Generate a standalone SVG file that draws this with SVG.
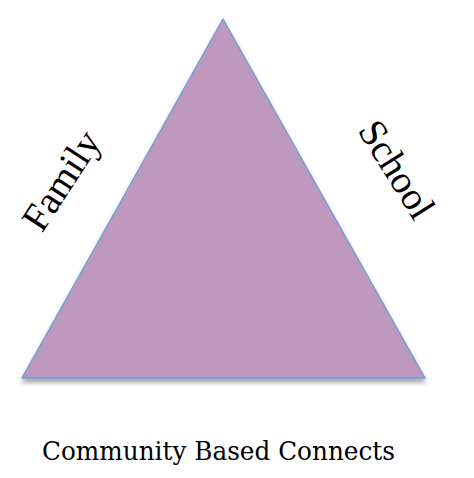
<svg xmlns="http://www.w3.org/2000/svg" width="474" height="478" viewBox="0 0 474 478">
<style>
.lbl{font-family:"Liberation Serif","Times New Roman",serif;fill:#000;}
.cap{font-family:"DejaVu Serif","Liberation Serif",serif;fill:#000;}
</style>
<defs>
<filter id="sh" x="-10%" y="-10%" width="120%" height="130%">
<feGaussianBlur in="SourceAlpha" stdDeviation="2.5"/>
<feOffset dx="0" dy="4" result="b"/>
<feComponentTransfer><feFuncA type="linear" slope="0.35"/></feComponentTransfer>
<feMerge><feMergeNode/><feMergeNode in="SourceGraphic"/></feMerge>
</filter>
</defs>
<rect width="474" height="478" fill="#fff"/>
<g id="triangle">
<polygon points="223,19 22,378 425,378" fill="#BE98BE" stroke="#6E9FD6" stroke-width="1.5" stroke-linejoin="round" filter="url(#sh)"/>
</g>
<g id="family">
<text class="lbl" font-size="39" text-anchor="middle" transform="translate(62,181) rotate(-57)" y="12">Family</text>
</g>
<g id="school">
<text class="lbl" font-size="39" text-anchor="middle" transform="translate(396,170) rotate(58)" y="12">School</text>
</g>
<g id="community">
<text class="cap" font-size="26" x="42" y="460" textLength="353" lengthAdjust="spacingAndGlyphs">Community Based Connects</text>
</g>
<g id="connectors"/>
</svg>
